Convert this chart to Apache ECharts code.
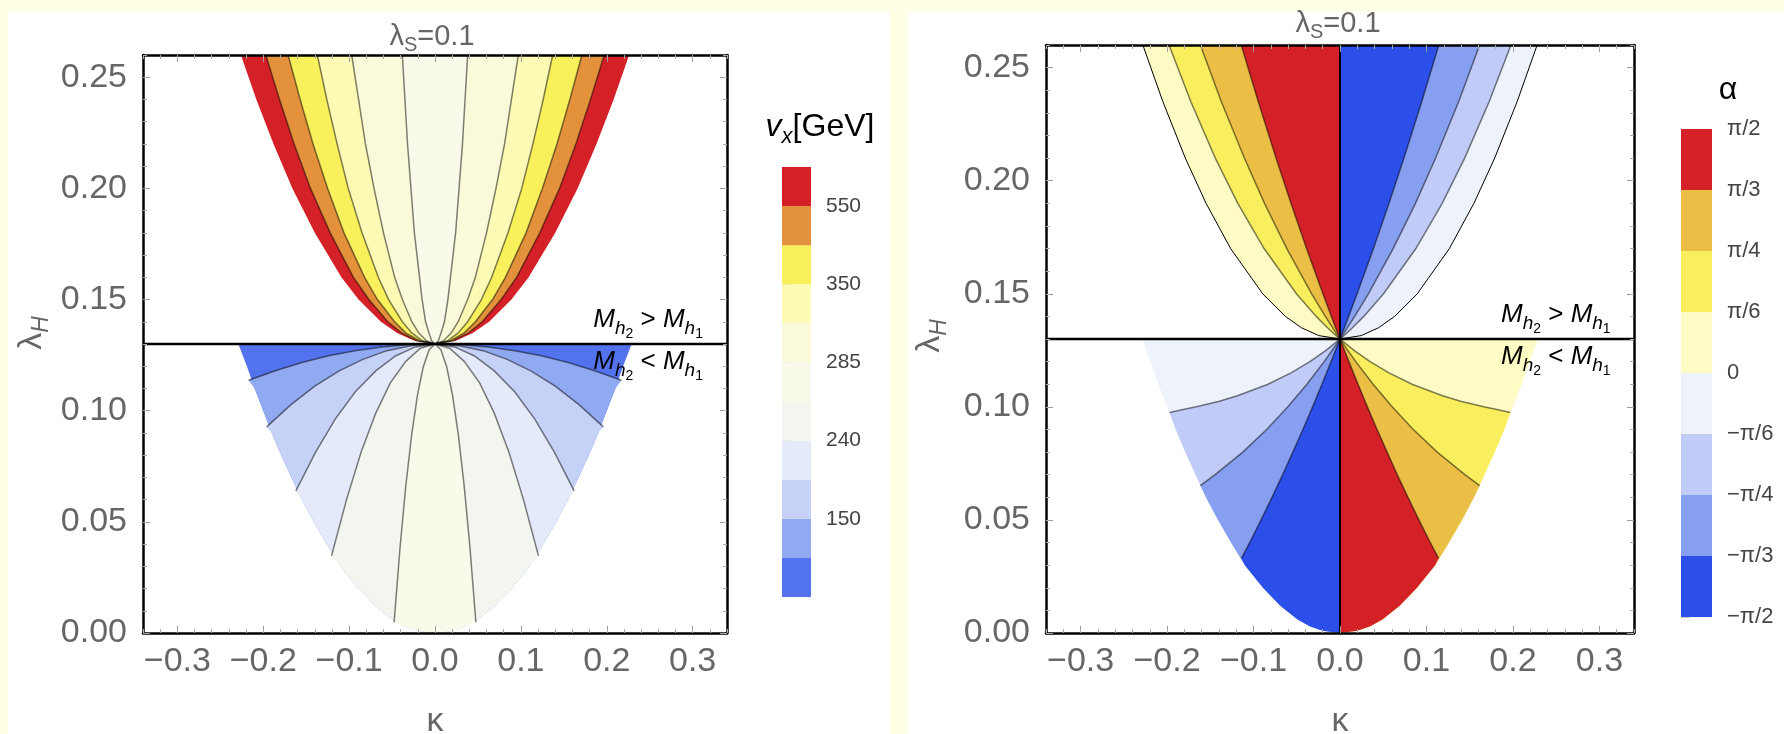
<!DOCTYPE html>
<html><head><meta charset="utf-8">
<script src="https://cdn.jsdelivr.net/npm/echarts@6/dist/echarts.min.js"></script>
<style>html,body{margin:0;padding:0;background:#FFFFE6;}#c{width:1784px;height:734px;}</style>
</head><body><div id="c"></div>
<script>
// ---------------- axes ----------------
const kappaMin = -0.34, kappaMax = 0.34;
const lambdaMin = 0, lambdaMax = 0.26;
const lambdaC = 0.13;                       // M_h2 = M_h1 line
const kappaTicks = [-0.3, -0.2, -0.1, 0, 0.1, 0.2, 0.3];
const lambdaTicks = [0, 0.05, 0.10, 0.15, 0.20, 0.25];

// ---------------- left panel: v_x [GeV] ----------------
const vxTickAt = [2, 4, 6, 8, 10];
const vxTickLabels = ['150', '240', '285', '350', '550'];
const vxColors = ['#5373EE', '#91A9F1', '#C6D1F7', '#E5EAFB', '#F3F6EF', '#F9FAEA',
                  '#FAFADA', '#FCFAB5', '#F9F15C', '#E3913A', '#D42027'];
// upper region (M_h2 > M_h1): |kappa| of each contour at these lambda_H levels
const vxUpperLevels = [0.13, 0.1315, 0.135, 0.14, 0.15, 0.16, 0.18, 0.20, 0.22, 0.24, 0.26];
const vxUpperEdge = [0, 0.024, 0.044, 0.063, 0.089, 0.109, 0.140, 0.166, 0.188, 0.208, 0.226];
const vxUpperC550 = [0, 0.021, 0.039, 0.055, 0.077, 0.095, 0.122, 0.145, 0.164, 0.181, 0.197];
const vxUpperC450 = [0, 0.018, 0.034, 0.047, 0.067, 0.082, 0.106, 0.125, 0.142, 0.157, 0.171];
const vxUpperC350 = [0, 0.015, 0.027, 0.038, 0.054, 0.066, 0.085, 0.101, 0.114, 0.126, 0.137];
const vxUpperC310 = [0, 0.010, 0.019, 0.027, 0.038, 0.047, 0.060, 0.071, 0.081, 0.089, 0.097];
const vxUpperC285 = [0, 0.004, 0.007, 0.011, 0.015, 0.018, 0.024, 0.028, 0.032, 0.035, 0.038];
// lower region (M_h2 < M_h1): contours as [|kappa|, lambda_H] from the apex to the edge
const vxLowerD1 = [[0, .1300], [.031, .1297], [.062, .1287], [.093, .1270], [.124, .1247], [.155, .1217], [.186, .1180], [.217, .1137]];
const vxLowerD2 = [[0, .1300], [.028, .1292], [.056, .1270], [.084, .1231], [.112, .1178], [.140, .1110], [.168, .1026], [.196, .0927]];
const vxLowerD3 = [[0, .1300], [.023, .1287], [.046, .1246], [.069, .1179], [.093, .1084], [.116, .0963], [.139, .0814], [.162, .0639]];
const vxLowerD4 = [[0, .1300], [.017, .1281], [.034, .1222], [.052, .1125], [.069, .0989], [.086, .0814], [.103, .0600], [.1205, .0347]];
const vxLowerD5 = [[0, .1300], [.0068, .1274], [.0136, .1198], [.0204, .1070], [.0272, .0891], [.034, .0661], [.0408, .0380], [.0476, .0048]];
// edge of the allowed lower region, [|kappa|, lambda_H]
const lowerEdge = [[0.229, 0.13], [0.219, 0.12], [0.210, 0.11], [0.200, 0.10], [0.190, 0.09], [0.179, 0.08],
                   [0.167, 0.07], [0.155, 0.06], [0.141, 0.05], [0.126, 0.04], [0.110, 0.03], [0.089, 0.02],
                   [0.069, 0.012], [0.049, 0.006], [0.035, 0.003], [0.020, 0.001], [0, 0]];

// ---------------- right panel: alpha ----------------
const alphaLabels = ['\u2212\u03c0/2', '\u2212\u03c0/3', '\u2212\u03c0/4', '\u2212\u03c0/6', '0', '\u03c0/6', '\u03c0/4', '\u03c0/3', '\u03c0/2'];
const alphaColors = ['#2C4FEA', '#879FF0', '#C0CCF7', '#EEF2FB', '#FEFCC4', '#F9EF5E', '#EBBE45', '#D42027'];
const alphaUpperLevels = [0.13, 0.1315, 0.135, 0.14, 0.15, 0.17, 0.19, 0.21, 0.235, 0.26];
const alphaUpperEdge = [0, .0245, .0447, .0632, .0894, .1265, .1549, .1789, .2049, .2280];
const alphaUpperPi6  = [0, .0045, .0144, .0275, .0504, .0878, .1182, .1442, .1726, .1977];
const alphaUpperPi4  = [0, .0026, .0086, .0170, .0328, .0615, .0873, .1106, .1373, .1615];
const alphaUpperPi3  = [0, .0015, .0051, .0100, .0198, .0387, .0567, .0740, .0946, .1143];
const alphaLowerPi6 = [[0, .13], [.0162, .125], [.0348, .12], [.0567, .115], [.0833, .11], [.1177, .105], [.1395, .1025], [.1662, .10], [.1788, .099], [.197, .0975]];
const alphaLowerPi4 = [[0, .13], [.0090, .125], [.0183, .12], [.0383, .11], [.0603, .10], [.0848, .09], [.1124, .08], [.1444, .07], [.1615, .0652]];
const alphaLowerPi3 = [[0, .13], [.0051, .125], [.0103, .12], [.0209, .11], [.0317, .10], [.0429, .09], [.0545, .08], [.0663, .07], [.0786, .06], [.0913, .05], [.1044, .04], [.1140, .033]];

// ---------------- helpers ----------------
const FONT = '"Liberation Sans", Arial, sans-serif';
const LINE = 'rgba(0,0,0,0.5)';
const mirror = pts => pts.map(p => [-p[0], p[1]]);
const levelCurve = (levels, kap, s) => levels.map((l, i) => [s * kap[i], l]);
const edgeBelow = lam => lowerEdge.filter(p => p[1] < lam - 1e-9);
const topLine = [[0, lambdaC], [lowerEdge[0][0], lambdaC]];

// left panel polygons (painted outer -> inner)
const polysL = [];
[[vxUpperEdge, 10], [vxUpperC550, 9], [vxUpperC450, 8], [vxUpperC350, 7], [vxUpperC310, 6], [vxUpperC285, 5]].forEach(([k, b]) => {
  polysL.push({ pts: [...levelCurve(vxUpperLevels, k, 1), ...levelCurve(vxUpperLevels, k, -1).reverse()], color: vxColors[b] });
});
[[topLine, 0], [vxLowerD1, 1], [vxLowerD2, 2], [vxLowerD3, 3], [vxLowerD4, 4], [vxLowerD5, 5]].forEach(([c, b]) => {
  const right = [...c, ...edgeBelow(c[c.length - 1][1])];
  polysL.push({ pts: [...right, ...mirror(right).reverse().slice(1)], color: vxColors[b] });
});
const linesL = [];
[vxUpperC550, vxUpperC450, vxUpperC350, vxUpperC310, vxUpperC285].forEach(k => {
  linesL.push({ pts: [...levelCurve(vxUpperLevels, k, -1).reverse(), ...levelCurve(vxUpperLevels, k, 1).slice(1)], color: LINE, width: 1.5 });
});
[vxLowerD1, vxLowerD2, vxLowerD3, vxLowerD4, vxLowerD5].forEach(c => {
  linesL.push({ pts: [...mirror(c).reverse(), ...c.slice(1)], color: LINE, width: 1.5 });
});
const blackL = [{ pts: [[kappaMin, lambdaC], [kappaMax, lambdaC]], color: '#000', width: 2.5 }];

// right panel polygons
const polysR = [];
[[alphaUpperEdge, 4, 3], [alphaUpperPi6, 5, 2], [alphaUpperPi4, 6, 1], [alphaUpperPi3, 7, 0]].forEach(([k, bl, br]) => {
  polysR.push({ pts: [...levelCurve(alphaUpperLevels, k, -1), [0, lambdaMax]], color: alphaColors[bl] });
  polysR.push({ pts: [...levelCurve(alphaUpperLevels, k, 1), [0, lambdaMax]], color: alphaColors[br] });
});
[[topLine, 4, 3], [alphaLowerPi6, 5, 2], [alphaLowerPi4, 6, 1], [alphaLowerPi3, 7, 0]].forEach(([c, br, bl]) => {
  const right = [...c, ...edgeBelow(c[c.length - 1][1])];
  polysR.push({ pts: right, color: alphaColors[br] });
  polysR.push({ pts: mirror(right), color: alphaColors[bl] });
});
const linesR = [];
[alphaUpperPi6, alphaUpperPi4, alphaUpperPi3].forEach(k => {
  linesR.push({ pts: [...levelCurve(alphaUpperLevels, k, -1).reverse(), ...levelCurve(alphaUpperLevels, k, 1).slice(1)], color: LINE, width: 1.5 });
});
linesR.push({ pts: [...levelCurve(alphaUpperLevels, alphaUpperEdge, -1).reverse(), ...levelCurve(alphaUpperLevels, alphaUpperEdge, 1).slice(1)], color: '#000', width: 1 });
[alphaLowerPi6, alphaLowerPi4, alphaLowerPi3].forEach(c => {
  linesR.push({ pts: [...mirror(c).reverse(), ...c.slice(1)], color: LINE, width: 1.5 });
});
const blackR = [{ pts: [[kappaMin, lambdaC], [kappaMax, lambdaC]], color: '#000', width: 2.5 },
                { pts: [[0, lambdaMin], [0, lambdaMax]], color: '#000', width: 2 }];

function polySeries(ai, polys) {
  return { type: 'custom', coordinateSystem: 'cartesian2d', xAxisIndex: ai, yAxisIndex: ai, clip: true, silent: true, z: 1,
    data: polys.map(p => [p.pts[0][0], p.pts[0][1]]),
    renderItem: (params, api) => { const p = polys[params.dataIndex];
      return { type: 'polygon', shape: { points: p.pts.map(q => api.coord(q)) }, style: { fill: p.color } }; } };
}
function lineSeries(ai, items, z) {
  return { type: 'custom', coordinateSystem: 'cartesian2d', xAxisIndex: ai, yAxisIndex: ai, clip: true, silent: true, z: z,
    data: items.map(p => [p.pts[0][0], p.pts[0][1]]),
    renderItem: (params, api) => { const p = items[params.dataIndex];
      return { type: 'polyline', shape: { points: p.pts.map(q => api.coord(q)) }, style: { stroke: p.color, lineWidth: p.width, fill: null } }; } };
}
function barSeries(ai, colors) {
  return { type: 'custom', coordinateSystem: 'cartesian2d', xAxisIndex: ai, yAxisIndex: ai, silent: true, z: 1,
    data: colors.map((c, i) => [0, i]),
    renderItem: (params, api) => { const i = params.dataIndex; const a = api.coord([0, i + 1]), b = api.coord([1, i]);
      return { type: 'rect', shape: { x: a[0], y: a[1], width: b[0] - a[0], height: b[1] - a[1] }, style: { fill: colors[i] } }; } };
}

const kMinor = [], lMinor = [];
for (let i = -17; i <= 17; i++) kMinor.push(+(i * 0.02).toFixed(2));
for (let i = 0; i <= 26; i++) lMinor.push(+(i * 0.01).toFixed(2));

function frameAxes(grid, dir) {
  const isX = dir === 'x';
  const major = isX ? kappaTicks : lambdaTicks, minor = isX ? kMinor : lMinor;
  const [pa, pb] = isX ? ['bottom', 'top'] : ['left', 'right'];
  const base = { type: 'value', gridIndex: grid, min: isX ? kappaMin : lambdaMin, max: isX ? kappaMax : lambdaMax, z: 10, splitLine: { show: false } };
  const fmt = isX ? (v => (v < 0 ? '\u2212' : '') + Math.abs(v).toFixed(1)) : (v => v.toFixed(2));
  return [
    Object.assign({}, base, { position: pa, axisLine: { show: true, onZero: false, lineStyle: { color: '#000', width: 2.5 } },
      axisTick: { show: true, inside: true, length: 7, customValues: major, lineStyle: { color: '#999', width: 1 } },
      axisLabel: { show: true, customValues: major, formatter: fmt, color: '#666', fontSize: 34, fontFamily: FONT, margin: isX ? 12 : 16 } }),
    Object.assign({}, base, { position: pa, axisLine: { show: false, onZero: false },
      axisTick: { show: true, inside: true, length: 4, customValues: minor, lineStyle: { color: '#aaa', width: 1 } }, axisLabel: { show: false } }),
    Object.assign({}, base, { position: pb, axisLine: { show: true, onZero: false, lineStyle: { color: '#000', width: 2.5 } },
      axisTick: { show: true, inside: true, length: 7, customValues: major, lineStyle: { color: '#999', width: 1 } }, axisLabel: { show: false } }),
    Object.assign({}, base, { position: pb, axisLine: { show: false, onZero: false },
      axisTick: { show: true, inside: true, length: 4, customValues: minor, lineStyle: { color: '#aaa', width: 1 } }, axisLabel: { show: false } })
  ];
}
const alphaTickAt = alphaLabels.map((l, i) => i);

const option = {
  animation: false,
  grid: [
    { left: 143, top: 55, width: 584, height: 578 },
    { left: 1046, top: 45, width: 588, height: 588 },
    { left: 782, top: 167, width: 29, height: 430 },
    { left: 1681, top: 129, width: 31, height: 488 }
  ],
  xAxis: [...frameAxes(0, 'x'), ...frameAxes(1, 'x'),
    { type: 'value', gridIndex: 2, min: 0, max: 1, show: false },
    { type: 'value', gridIndex: 3, min: 0, max: 1, show: false }],
  yAxis: [...frameAxes(0, 'y'), ...frameAxes(1, 'y'),
    { type: 'value', gridIndex: 2, min: 0, max: vxColors.length, position: 'right', axisLine: { show: false }, splitLine: { show: false },
      axisTick: { show: true, customValues: vxTickAt, length: 9, lineStyle: { color: '#ccc' } },
      axisLabel: { customValues: vxTickAt, formatter: v => vxTickLabels[vxTickAt.indexOf(Math.round(v))], color: '#444', fontSize: 21, fontFamily: FONT, margin: 15 } },
    { type: 'value', gridIndex: 3, min: 0, max: alphaColors.length, position: 'right', axisLine: { show: false }, splitLine: { show: false },
      axisTick: { show: true, customValues: alphaTickAt, length: 9, lineStyle: { color: '#ccc' } },
      axisLabel: { customValues: alphaTickAt, formatter: v => alphaLabels[Math.round(v)], color: '#444', fontSize: 22, fontFamily: FONT, margin: 15 } }],
  series: [
    polySeries(0, polysL), lineSeries(0, linesL, 3), lineSeries(0, blackL, 4),
    polySeries(4, polysR), lineSeries(4, linesR, 3), lineSeries(4, blackR, 4),
    barSeries(8, vxColors), barSeries(9, alphaColors)
  ]
};

const chart = echarts.init(document.getElementById('c'), null, { renderer: 'canvas', width: 1784, height: 734 });
chart.setOption(option);

// ---------------- text ----------------
function tok(fs, color, pad, italic) {
  const o = { fontSize: fs, fill: color, color: color, fontFamily: FONT, verticalAlign: 'top' };
  if (pad) o.padding = [pad, 0, 0, 0];
  if (italic) o.fontStyle = 'italic';
  return o;
}
function txt(x, y, text, rich, align, valign, rot) {
  const el = { type: 'text', x: x, y: y, z: 100, silent: true,
    style: { x: 0, y: 0, text: text, rich: rich, align: align, textAlign: align, verticalAlign: valign, textVerticalAlign: valign } };
  if (rot) el.rotation = rot;
  return el;
}
const richTitle = { a: tok(29, '#666'), s: tok(20, '#666', 13) };
const richAxisY = { a: tok(34, '#666'), s: tok(23, '#666', 16, true) };
const richAxisX = { a: tok(34, '#666') };
const richM = { m: tok(26, '#000', 0, true), h: tok(19, '#000', 12.5, true), n: tok(14, '#000', 20.5), o: tok(26, '#000') };
const richVx = { v: tok(32, '#000', 0, true), x: tok(22, '#000', 15, true), g: tok(32, '#000') };
const richAl = { a: tok(32, '#000') };
const mUp = '{m|M}{h|h}{n|2}{o| > }{m|M}{h|h}{n|1}';
const mDn = '{m|M}{h|h}{n|2}{o| < }{m|M}{h|h}{n|1}';

const pL = chart.convertToPixel({ gridIndex: 0 }, [0.312, lambdaC]);
const pR = chart.convertToPixel({ gridIndex: 1 }, [0.313, lambdaC]);

const graphics = [
  { type: 'rect', z: -10, silent: true, shape: { x: 8, y: 12, width: 882, height: 722 }, style: { fill: '#fff' } },
  { type: 'rect', z: -10, silent: true, shape: { x: 908, y: 12, width: 876, height: 722 }, style: { fill: '#fff' } },
  txt(432, 22, '{a|\u03bb}{s|S}{a|=0.1}', richTitle, 'center', 'top'),
  txt(1338, 9, '{a|\u03bb}{s|S}{a|=0.1}', richTitle, 'center', 'top'),
  txt(34, 333, '{a|\u03bb}{s|H}', richAxisY, 'center', 'middle', Math.PI / 2),
  txt(932, 336, '{a|\u03bb}{s|H}', richAxisY, 'center', 'middle', Math.PI / 2),
  txt(435, 705, '{a|\u03ba}', richAxisX, 'center', 'top'),
  txt(1340, 705, '{a|\u03ba}', richAxisX, 'center', 'top'),
  txt(820, 111, '{v|v}{x|x}{g|[GeV]}', richVx, 'center', 'top'),
  txt(1728, 74, '{a|\u03b1}', richAl, 'center', 'top'),
  txt(pL[0], pL[1] - 3, mUp, richM, 'right', 'bottom'),
  txt(pL[0], pL[1] + 5, mDn, richM, 'right', 'top'),
  txt(pR[0], pR[1] - 3, mUp, richM, 'right', 'bottom'),
  txt(pR[0], pR[1] + 5, mDn, richM, 'right', 'top')
];
chart.setOption({ graphic: graphics });
</script></body></html>
